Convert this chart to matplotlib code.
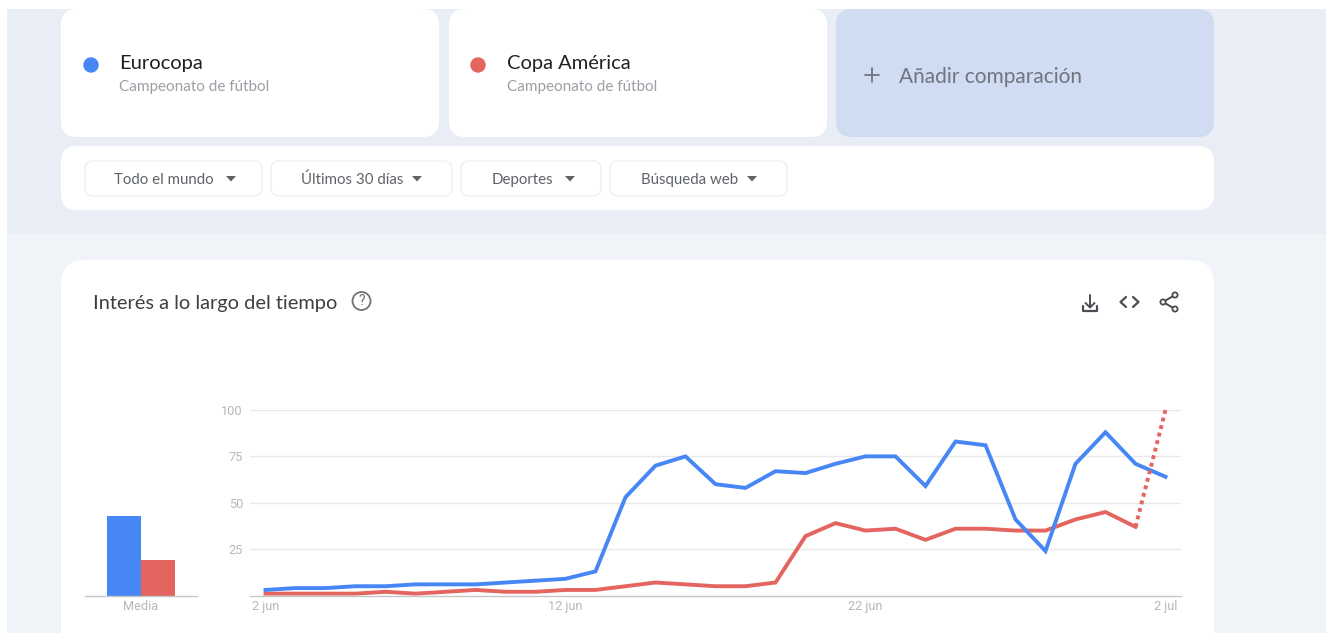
import matplotlib
matplotlib.use('Agg')
import matplotlib.pyplot as plt
from matplotlib.patches import Circle, FancyBboxPatch, Rectangle

# ---Search interest per day, from 2 jun to 2 jul
days = list(range(31))
eurocopa = [3, 4, 4, 5, 5, 6, 6, 6, 7, 8, 9, 13, 53, 70, 75, 60, 58, 67, 66, 71,
            75, 75, 59, 83, 81, 41, 24, 71, 88, 71, 64]
copa_america = [1, 1, 1, 1, 2, 1, 2, 3, 2, 2, 3, 3, 5, 7, 6, 5, 5, 7, 32, 39,
                35, 36, 30, 36, 36, 35, 35, 41, 45, 37]
copa_partial = [37, 100]
partial_days = [29, 30]

average_labels = ['Eurocopa', 'Copa América']
average_values = [43, 19]

y_ticks = [25, 50, 75, 100]
x_ticks = [0, 10, 20, 30]
x_tick_labels = ['2 jun', '12 jun', '22 jun', '2 jul']

filter_labels = ['Todo el mundo', 'Últimos 30 días', 'Deportes', 'Búsqueda web']

BLUE = '#4787f5'
RED = '#e4655f'
TICK_GREY = '#b8b8b8'
GRID_GREY = '#e9e9e9'
AXIS_GREY = '#c6c6c6'
ICON_GREY = '#4a4d52'

W, H = 1333, 633
plt.rcParams['font.family'] = ['Roboto', 'DejaVu Sans']

fig = plt.figure(figsize=(W / 100, H / 100), dpi=100, facecolor='white')

# ---Page layer, in pixel units
page = fig.add_axes([0, 0, 1, 1])
page.set_xlim(0, W)
page.set_ylim(H, 0)
page.axis('off')


def card(x0, y0, x1, y1, radius, color='white', edge='none', lw=0):
    page.add_patch(FancyBboxPatch((x0, y0), x1 - x0, y1 - y0,
                                  boxstyle=f'round,pad=0,rounding_size={radius}',
                                  facecolor=color, edgecolor=edge, linewidth=lw))


def stroke(xs, ys, lw=1.4, color=ICON_GREY):
    page.plot(xs, ys, color=color, lw=lw, solid_capstyle='round',
              solid_joinstyle='round')


page.add_patch(Rectangle((7, 9), 1319, 225, facecolor='#e8edf6', edgecolor='none'))
page.add_patch(Rectangle((7, 234), 1319, 399, facecolor='#f0f3f8', edgecolor='none'))

# ---Search term cards
card(61, 9, 439, 137, 16)
card(449, 9, 827, 137, 16)
card(836, 9, 1214, 137, 16, color='#cfdcf2')

for x_dot, x_text, name, color in zip([91, 478], [119, 507], average_labels, [BLUE, RED]):
    page.add_patch(Circle((x_dot, 65), 7.7, facecolor=color, edgecolor='none'))
    page.text(x_text, 64, name, fontsize=14.5, color='#202124', va='center', family='Lato')
    page.text(x_text, 87, 'Campeonato de fútbol', fontsize=11, color='#9aa0a6',
              va='center', family='Lato')

stroke([865, 879], [75, 75], lw=1.3, color='#6f7680')
stroke([872, 872], [68, 82], lw=1.3, color='#6f7680')
page.text(899, 77, 'Añadir comparación', fontsize=15, color='#6f7680', va='center',
          family='Lato')

# ---Filter row
card(61, 146, 1214, 210, 16)
button_edges = [(85, 262), (271, 452), (461, 601), (610, 787)]
text_centers = [164, 352, 522, 690]
arrow_centers = [231, 417, 570, 752]
for (x0, x1), xc, xa, label in zip(button_edges, text_centers, arrow_centers, filter_labels):
    card(x0, 161, x1, 196, 8, edge='#ececec', lw=0.8)
    page.text(xc, 180, label, fontsize=10.8, color='#5f6368', ha='center', va='center',
              family='Lato')
    page.fill([xa - 5, xa + 5, xa], [176, 176, 181.5], color='#5f6368', lw=0)

# ---Chart card
card(61, 260, 1214, 720, 24)
page.text(93, 303, 'Interés a lo largo del tiempo', fontsize=14.4, color='#3c4043',
          va='center', family='Lato')
page.add_patch(Circle((361.5, 301), 9, facecolor='none', edgecolor='#6f7378', lw=1.3))
page.text(361.5, 301, '?', fontsize=10, color='#6f7378', ha='center', va='center')

# download icon
stroke([1090, 1090], [295, 307])
stroke([1085.5, 1090, 1094.5], [303, 307.5, 303])
stroke([1082.5, 1082.5, 1097, 1097], [306, 311, 311, 306], lw=1.6)
# embed icon
stroke([1126, 1120.5, 1126], [297, 302, 307], lw=1.6)
stroke([1133, 1138.5, 1133], [297, 302, 307], lw=1.6)
# share icon
stroke([1175, 1163, 1175], [295, 302, 309])
for cx, cy in [(1175, 295), (1163, 302), (1175, 309)]:
    page.add_patch(Circle((cx, cy), 2.6, facecolor='white', edgecolor=ICON_GREY, lw=1.3,
                          zorder=3))

# ---Line chart
px_per_day = 30.0
x_origin = 265.5
left, right, top, bottom = 250, 1181, 410, 595.5
ax = fig.add_axes([left / W, 1 - bottom / H, (right - left) / W, (bottom - top) / H])
ax.patch.set_alpha(0)
ax.set_xlim((left - x_origin) / px_per_day, (right - x_origin) / px_per_day)
ax.set_ylim(0, 100)

for y in y_ticks:
    ax.axhline(y, color=GRID_GREY, lw=1, zorder=1)
ax.plot(days, eurocopa, color=BLUE, lw=2.8, zorder=3, solid_joinstyle='miter')
ax.plot(days[:len(copa_america)], copa_america, color=RED, lw=2.8, zorder=2,
        solid_joinstyle='miter')
ax.plot(partial_days, copa_partial, color=RED, lw=2.8, zorder=4, clip_on=False,
        linestyle=(0, (1, 1)))

for spine in ['top', 'right', 'left']:
    ax.spines[spine].set_visible(False)
ax.spines['bottom'].set_color(AXIS_GREY)
ax.spines['bottom'].set_linewidth(1)
ax.set_yticks(y_ticks)
ax.set_yticklabels([str(v) for v in y_ticks])
ax.set_xticks(x_ticks)
ax.set_xticklabels(x_tick_labels)
ax.tick_params(length=0, labelsize=9.2, labelcolor=TICK_GREY)
ax.tick_params(axis='y', pad=5)
ax.tick_params(axis='x', pad=3.5)

# ---Average bars
b_left, b_right = 85, 197
ax_bar = fig.add_axes([b_left / W, 1 - bottom / H, (b_right - b_left) / W, (bottom - top) / H])
ax_bar.patch.set_alpha(0)
ax_bar.bar([0, 1], average_values, width=1, color=[BLUE, RED], edgecolor='none')
ax_bar.set_xlim(-0.5 - 22 / 34, 1.5 + 22 / 34)
ax_bar.set_ylim(0, 100)
for spine in ['top', 'right', 'left']:
    ax_bar.spines[spine].set_visible(False)
ax_bar.spines['bottom'].set_color(AXIS_GREY)
ax_bar.spines['bottom'].set_linewidth(1)
ax_bar.set_yticks([])
ax_bar.set_xticks([0.5])
ax_bar.set_xticklabels(['Media'])
ax_bar.tick_params(length=0, labelsize=9.2, labelcolor=TICK_GREY, pad=3.5)

fig.savefig('out.png', dpi=100)
